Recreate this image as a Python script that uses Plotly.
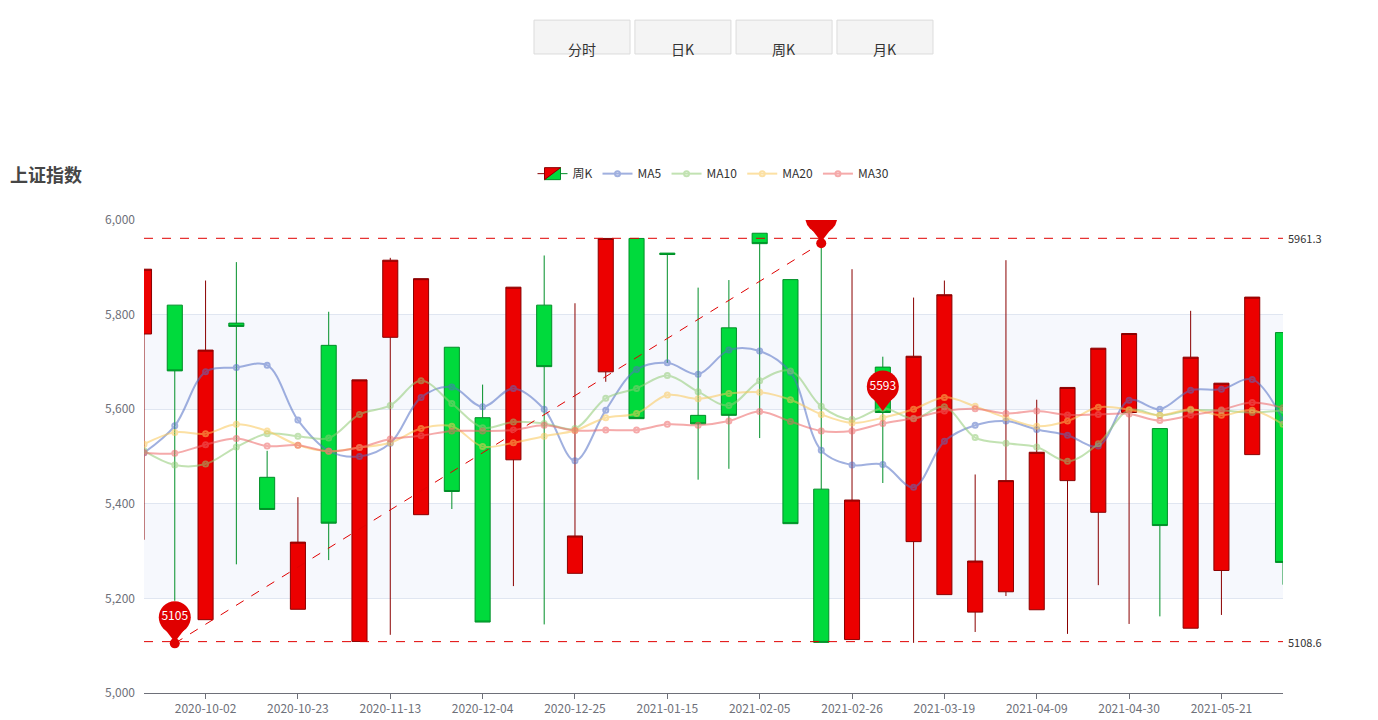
import plotly.graph_objects as go
import pandas as pd

dates = pd.date_range("2020-09-18", periods=38, freq="7D")
opens  = [5759,5820,5155,5782,5456,5177,5735,5109,5752,5377,5731,5582,5493,5820,5253,5679,5961,5930,5587,5772,5972,5874,5431,5113,5689,5320,5208,5171,5214,5176,5449,5382,5593,5559,5137,5259,5504,5762]
closes = [5896,5681,5725,5775,5388,5319,5359,5662,5915,5876,5426,5150,5858,5690,5332,5961,5580,5927,5569,5587,5950,5358,5107,5408,5593,5712,5842,5279,5449,5509,5646,5729,5760,5354,5710,5655,5837,5276]
lows   = [5324,5195,5155,5272,5388,5177,5281,5109,5123,5377,5389,5150,5226,5145,5253,5658,5580,5698,5451,5474,5539,5358,5107,5113,5444,5106,5208,5129,5205,5176,5125,5228,5146,5162,5137,5165,5504,5229]
highs  = [5896,5820,5872,5911,5512,5414,5806,5662,5920,5876,5731,5652,5858,5925,5824,5961,5961,5930,5857,5873,5972,5874,5951,5896,5711,5836,5872,5462,5915,5620,5646,5729,5760,5559,5808,5655,5837,5762]
ma5  = [5508,5565,5679,5688,5693,5577,5512,5500,5528,5625,5647,5605,5644,5600,5491,5598,5684,5698,5674,5725,5723,5678,5513,5482,5483,5435,5532,5566,5575,5557,5545,5522,5619,5600,5640,5642,5663,5577]
ma10 = [5512,5482,5484,5520,5548,5543,5539,5589,5608,5660,5612,5561,5573,5570,5559,5623,5644,5671,5637,5608,5660,5681,5606,5578,5602,5580,5605,5540,5528,5520,5490,5527,5598,5587,5598,5597,5593,5598]
ma20 = [5526,5551,5548,5568,5554,5524,5511,5519,5529,5559,5564,5521,5529,5543,5555,5582,5591,5630,5622,5633,5636,5620,5589,5571,5582,5600,5625,5606,5582,5564,5575,5604,5599,5587,5600,5587,5598,5568]
ma30 = [5508,5507,5525,5538,5522,5524,5511,5519,5537,5544,5554,5554,5556,5566,5555,5556,5556,5568,5566,5575,5595,5574,5554,5554,5570,5581,5596,5601,5591,5596,5588,5589,5590,5576,5587,5599,5614,5603]
tick_dates = ["2020-10-02","2020-10-23","2020-11-13","2020-12-04","2020-12-25","2021-01-15","2021-02-05","2021-02-26","2021-03-19","2021-04-09","2021-04-30","2021-05-21"]
max_line, min_line = 5961.3, 5108.6
pin_dates = ["2020-09-25", "2021-02-19", "2021-03-05"]
pin_vals = [5105, 5951, 5593]
buttons = ["分时", "日K", "周K", "月K"]

fig = go.Figure()
# split area bands
for i, (a, b) in enumerate([(5000,5200),(5200,5400),(5400,5600),(5600,5800),(5800,6000)]):
    if i % 2 == 1:
        fig.add_shape(type="rect", xref="paper", x0=0, x1=1, y0=a, y1=b,
                      fillcolor="rgba(235,240,250,0.45)", line_width=0, layer="below")

fig.add_trace(go.Candlestick(x=dates, open=opens, close=closes, low=lows, high=highs, name="周K",
    increasing=dict(fillcolor="#ec0000", line=dict(color="#8a0000", width=1)),
    decreasing=dict(fillcolor="#00da3c", line=dict(color="#008f28", width=1)),
    whiskerwidth=0))
for name, vals, col in [("MA5", ma5, "#5470c6"), ("MA10", ma10, "#91cc75"),
                        ("MA20", ma20, "#fac858"), ("MA30", ma30, "#ee6666")]:
    fig.add_trace(go.Scatter(x=dates, y=vals, name=name, mode="lines+markers",
        line=dict(color=col, width=2, shape="spline"), opacity=0.55,
        marker=dict(symbol="circle-open", size=5, color=col, line=dict(width=2))))

# mark lines
for v in [max_line, min_line]:
    fig.add_shape(type="line", xref="paper", x0=0, x1=1, y0=v, y1=v,
                  line=dict(color="#e00000", width=1, dash="dash"))
    fig.add_annotation(xref="paper", x=1.003, y=v, text=f"{v:.1f}", showarrow=False,
                       xanchor="left", font=dict(size=11, color="#333"))
fig.add_trace(go.Scatter(x=[pin_dates[0], pin_dates[1]], y=[pin_vals[0], pin_vals[1]], mode="lines",
    line=dict(color="#e00000", width=1, dash="dash"), showlegend=False, hoverinfo="skip"))
# pins
fig.add_trace(go.Scatter(x=pin_dates[:2], y=pin_vals[:2], mode="markers",
    marker=dict(color="#e00000", size=10), showlegend=False))
fig.add_trace(go.Scatter(x=pin_dates, y=[v + 20 for v in pin_vals], mode="markers",
    marker=dict(symbol="triangle-down", color="#e00000", size=16), showlegend=False))
fig.add_trace(go.Scatter(x=pin_dates, y=[v + 55 for v in pin_vals], mode="markers+text",
    text=[str(v) for v in pin_vals], textposition="middle center",
    textfont=dict(color="white", size=12),
    marker=dict(color="#e00000", size=32), showlegend=False))

# buttons
x0s = [0.3424, 0.431, 0.5198, 0.6084]
for lbl, x0 in zip(buttons, x0s):
    fig.add_shape(type="rect", xref="paper", yref="paper", x0=x0, x1=x0 + 0.0843, y0=1.351, y1=1.4226,
                  fillcolor="#f4f4f4", line=dict(color="#dcdcdc", width=1))
    fig.add_annotation(xref="paper", yref="paper", x=x0 + 0.042, y=1.387, text=lbl, showarrow=False,
                       font=dict(size=14, color="#333"))
fig.add_annotation(xref="paper", yref="paper", x=-0.1194, y=1.098, text="<b>上证指数</b>", showarrow=False,
                   xanchor="left", yanchor="middle", font=dict(size=18, color="#464646"))

fig.update_layout(
    width=1378, height=720, paper_bgcolor="white", plot_bgcolor="white",
    margin=dict(l=136, r=103, t=212, b=30),
    font=dict(family="Noto Sans CJK SC, Noto Sans, sans-serif", color="#333"),
    showlegend=True,
    legend=dict(orientation="h", x=0.5, xanchor="center", y=1.098, yanchor="middle",
                font=dict(size=12, color="#333"), itemwidth=30),
    xaxis=dict(type="date", range=[dates[0], dates[-1]], rangeslider=dict(visible=False),
               tickvals=tick_dates, ticktext=tick_dates, showgrid=False,
               showline=True, linecolor="#6e7079", ticks="outside", tickcolor="#6e7079",
               tickfont=dict(size=12, color="#6e7079")),
    yaxis=dict(range=[5000, 6000], dtick=200, tickformat=",", gridcolor="#e0e6f1",
               zeroline=False, tickfont=dict(size=12, color="#6e7079"), ticks="", ticklabelstandoff=8),
)
fig.write_html("out.html")
